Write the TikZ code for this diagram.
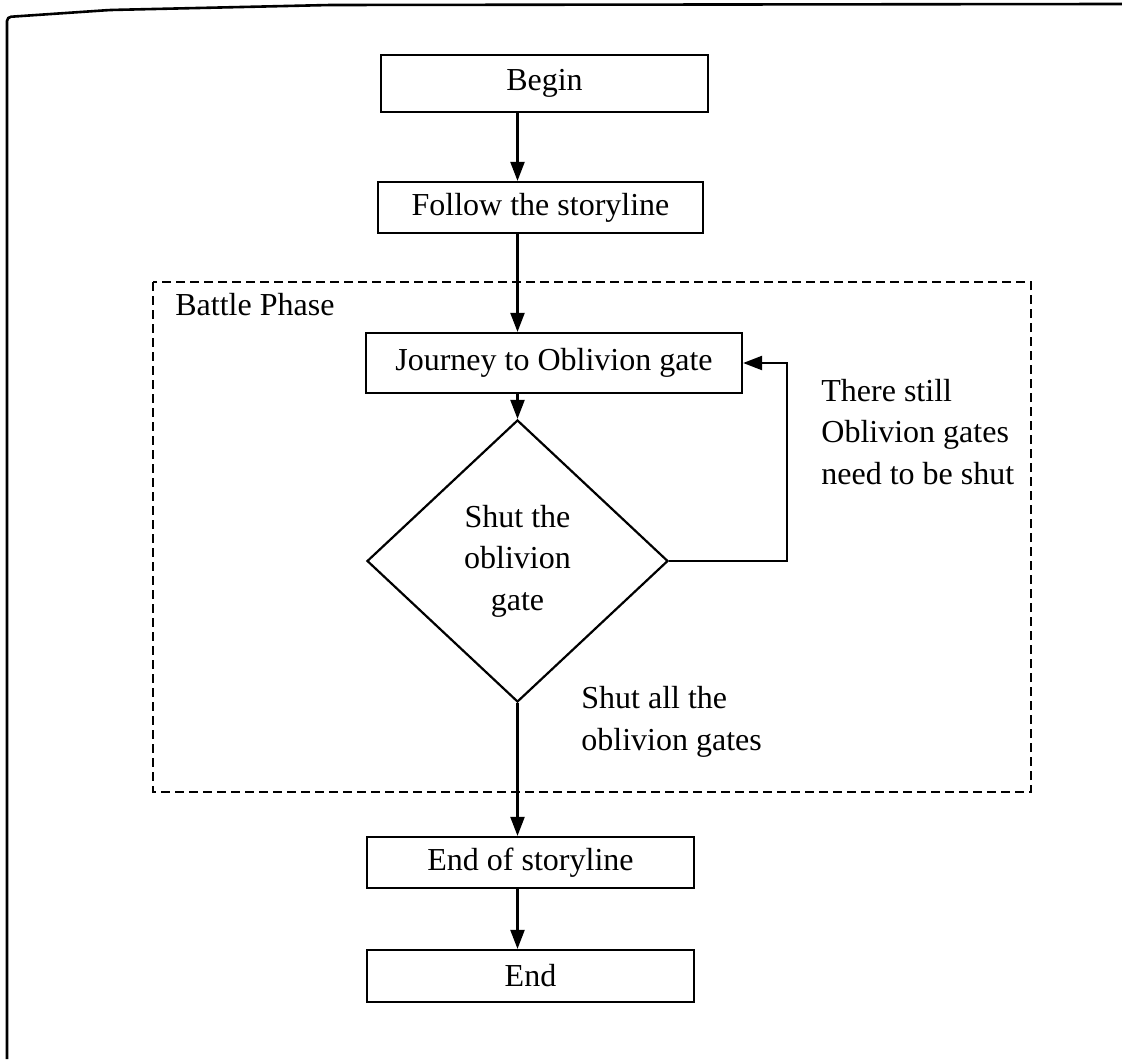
\documentclass[tikz,border=0pt]{standalone}
\usepackage{fontspec}
\setmainfont{Liberation Serif}
\usetikzlibrary{shapes.geometric,arrows.meta}
\begin{document}
\begin{tikzpicture}[x=0.5pt,y=-0.5pt,
  font=\fontsize{16}{20.75}\selectfont,
  box/.style={draw,line width=1.1pt,inner sep=0pt},
  arr/.style={line width=1.1pt,-{Triangle[length=9.5pt,width=7pt]}},
  lbl/.style={align=left,inner sep=0pt,anchor=base west},
  dashbox/.style={line width=1.2pt,dash pattern=on 4.5pt off 2.5pt}]
\useasboundingbox (0,0) rectangle (1122,1059);
% scanned page frame
\draw[line width=1.3pt,rounded corners=2pt] (7,1059) -- (7,17) -- (110,10) -- (330,5) -- (1122,4);
% battle phase region
\draw[dashbox] (153,282) rectangle (1031,792);
\node[lbl] (battle) at (175,315) {Battle Phase};
% boxes
\node[box,minimum width=163.5pt,minimum height=28.5pt] (begin) at (544.5,83.5) {Begin};
\node[box,minimum width=162.5pt,minimum height=25.5pt] (follow) at (540.5,207.5) {Follow the storyline};
\node[box,minimum width=188pt,minimum height=30pt] (journey) at (554,363) {Journey to Oblivion gate};
\node[diamond,draw,line width=1.1pt,inner sep=0pt,minimum width=150.5pt,minimum height=141pt,align=center] (dia) at (517.5,561) {Shut the\\oblivion\\gate};
\node[box,minimum width=163.5pt,minimum height=25.5pt] (story) at (530.5,862.5) {End of storyline};
\node[box,minimum width=163.5pt,minimum height=26pt] (end) at (530.5,976) {End};
% labels (anchored at the baseline of their last line)
\node[lbl] (still) at (821,484) {There still\\Oblivion gates\\need to be shut};
\node[lbl] (all) at (581,750) {Shut all the\\oblivion gates};
% connectors
\coordinate (loop) at (787,363);
\draw[arr] (begin.south -| dia.north) -- (follow.north -| dia.north);
\draw[arr] (follow.south -| dia.north) -- (journey.north -| dia.north);
\draw[arr] (journey.south -| dia.north) -- (dia.north);
\draw[arr] (dia.south) -- (story.north -| dia.south);
\draw[arr] (story.south -| dia.south) -- (end.north -| dia.south);
\draw[arr] (dia.east) -| (loop) -- (journey.east);
\end{tikzpicture}
\end{document}
